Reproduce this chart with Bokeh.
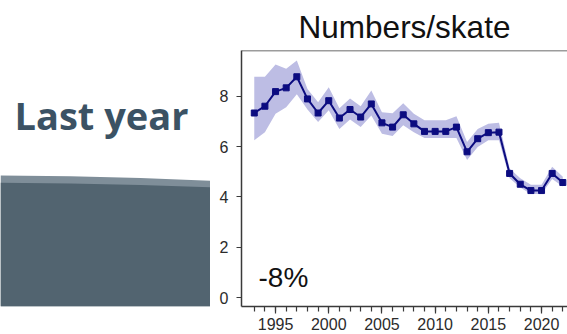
from bokeh.plotting import figure
from bokeh.layouts import row
from bokeh.models import Range1d, FixedTicker, Label, Span
from bokeh.embed import file_html
from bokeh.resources import INLINE

# Yearly index values with their confidence band
years = list(range(1993, 2023))
index = [7.33, 7.60, 8.18, 8.33, 8.77, 7.89, 7.33, 7.82, 7.13, 7.47,
         7.17, 7.69, 6.94, 6.77, 7.26, 6.90, 6.60, 6.60, 6.60, 6.77,
         5.79, 6.31, 6.55, 6.57, 4.93, 4.50, 4.25, 4.25, 4.93, 4.57]
lower = [6.25, 6.57, 7.30, 7.56, 8.08, 7.47, 6.97, 7.44, 6.70, 7.07,
         6.77, 7.23, 6.51, 6.42, 6.84, 6.57, 6.34, 6.34, 6.34, 6.34,
         5.46, 5.98, 6.25, 6.25, 4.74, 4.37, 4.11, 4.11, 4.71, 4.41]
upper = [8.77, 8.77, 9.26, 9.09, 9.42, 8.28, 7.76, 8.35, 7.52, 7.91,
         7.60, 8.22, 7.36, 7.32, 7.72, 7.30, 7.04, 7.04, 7.04, 7.20,
         6.18, 6.70, 6.90, 6.94, 5.13, 4.74, 4.48, 4.48, 5.20, 4.80]
x_major_ticks = [1995, 2000, 2005, 2010, 2015, 2020]
y_major_ticks = [0, 2, 4, 6, 8]
change_text = "-8%"
chart_title = "Numbers/skate"
side_heading = "Last year"

AXIS_COLOR = "#3a3a3a"
LINE_COLOR = "#0c0c80"

# ---- left-hand slide panel -------------------------------------------------
side = figure(width=210, height=334, x_range=Range1d(0, 210), y_range=Range1d(334, 0),
              output_backend="svg", toolbar_location=None, min_border=0)
side.axis.visible = False
side.grid.visible = False
side.outline_line_color = None
side.background_fill_color = "white"
side.border_fill_color = "white"

# lighter rim of the curved banner
side.patch([0, 70, 140, 210, 210, 0], [163, 164, 166.5, 170, 334, 334],
           fill_color="#7f8e99", line_color=None)
# main dark banner body
side.patch([0, 70, 140, 210, 210, 0], [172.5, 173.5, 175.5, 178.5, 334, 334],
           fill_color="#526470", line_color=None)

side.add_layout(Label(x=14, y=84, text=side_heading, text_font="Open Sans",
                      text_font_style="bold", text_font_size="38px",
                      text_color="#3b5264", text_baseline="alphabetic"))

# ---- index chart ------------------------------------------------------------
p = figure(width=357, height=334, x_range=Range1d(1991.80, 2022.44),
           y_range=Range1d(-0.355, 9.813), output_backend="svg",
           toolbar_location=None, min_border_left=31, min_border_right=0,
           min_border_top=48, min_border_bottom=28, title=chart_title)
p.title.text_font = "Liberation Sans"
p.title.text_font_style = "normal"
p.title.text_font_size = "31.5px"
p.title.text_color = "#111111"
p.title.align = "center"
p.title.standoff = 12
p.outline_line_color = None
p.grid.visible = False
p.background_fill_color = "white"
p.border_fill_color = "white"

p.varea(x=years, y1=lower, y2=upper, fill_color="#bdbde4", fill_alpha=1.0)
p.line(years, index, line_color=LINE_COLOR, line_width=2)
p.scatter(years, index, marker="square", size=6, fill_color=LINE_COLOR,
          line_color=LINE_COLOR)

p.add_layout(Span(location=9.813, dimension="width", line_color=AXIS_COLOR,
                  line_width=1.5))

p.xaxis.ticker = FixedTicker(ticks=x_major_ticks, minor_ticks=years)
p.yaxis.ticker = FixedTicker(ticks=y_major_ticks, minor_ticks=[])
for ax in (p.xaxis[0], p.yaxis[0]):
    ax.axis_line_color = AXIS_COLOR
    ax.axis_line_width = 1.5
    ax.major_tick_line_color = AXIS_COLOR
    ax.major_tick_line_width = 1.2
    ax.minor_tick_line_color = AXIS_COLOR
    ax.minor_tick_line_width = 1.2
    ax.major_tick_in = 0
    ax.minor_tick_in = 0
    ax.major_label_text_font = "Liberation Sans"
    ax.major_label_text_font_size = "16px"
    ax.major_label_text_color = "#2b2b2b"
p.xaxis.major_tick_out = 7
p.xaxis.minor_tick_out = 5
p.xaxis.major_label_standoff = 4
p.yaxis.major_tick_out = 5
p.yaxis.major_label_standoff = 8
p.yaxis.major_label_orientation = "horizontal"

p.add_layout(Label(x=1993.4, y=0.78, text=change_text, text_font="Liberation Sans",
                   text_font_size="28px", text_color="#111111",
                   text_baseline="alphabetic"))

layout = row(side, p, spacing=0)
open("out.html", "w").write(file_html(layout, INLINE))
